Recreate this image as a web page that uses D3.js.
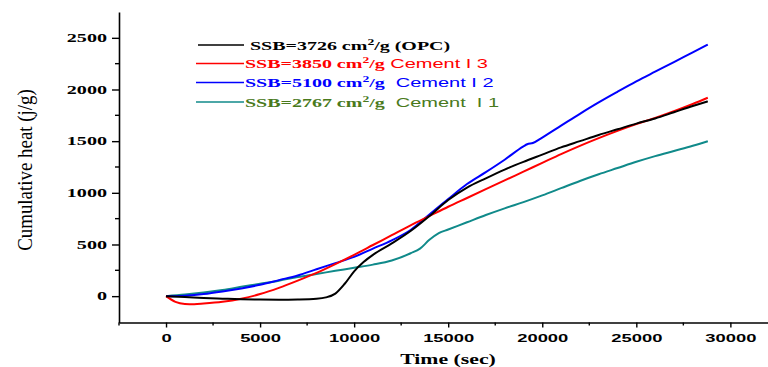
<!DOCTYPE html>
<html>
<head>
<meta charset="utf-8">
<script src="https://cdn.jsdelivr.net/npm/d3@7"></script>
<style>
  body { margin: 0; background: #fff; }
  svg { display: block; }
</style>
</head>
<body>
<svg id="chart" width="768" height="367"></svg>
<script>
// time (sec) for every sample
const opcTime = [0, 1000, 2000, 3000, 4000, 5000, 6000, 7000, 8000, 8500, 9000, 9500, 10000, 10500, 11000, 12000, 13000, 14000, 15000, 16000, 17000, 18000, 19000, 20000, 21000, 22000, 23000, 24000, 25000, 26000, 27000, 28000, 28800];
const opcHeat = [0, -8, -17, -24, -30, -33, -34, -32, -25, -12, 25, 120, 240, 330, 400, 510, 630, 775, 930, 1050, 1140, 1225, 1300, 1370, 1440, 1500, 1560, 1615, 1670, 1720, 1780, 1840, 1885];

const c3Time = [0, 500, 1000, 1500, 2000, 3000, 4000, 5000, 6000, 7000, 8000, 9000, 10000, 11000, 12000, 13000, 14000, 15000, 16000, 17000, 18000, 19000, 20000, 21000, 22000, 23000, 24000, 25000, 26000, 27000, 28000, 28800];
const c3Heat = [0, -55, -75, -78, -72, -55, -25, 20, 80, 150, 225, 310, 400, 495, 590, 685, 775, 865, 950, 1035, 1120, 1205, 1290, 1375, 1455, 1530, 1600, 1665, 1725, 1790, 1860, 1920];

const c2Time = [0, 1000, 2000, 3000, 4000, 5000, 6000, 7000, 8000, 9000, 10000, 11000, 12000, 13000, 14000, 15000, 16000, 17000, 18000, 19000, 19200, 19500, 20000, 21000, 22000, 23000, 24000, 25000, 26000, 27000, 28000, 28800];
const c2Heat = [0, 5, 20, 45, 75, 110, 155, 200, 260, 320, 380, 460, 540, 640, 790, 940, 1085, 1200, 1320, 1450, 1470, 1482, 1535, 1650, 1765, 1875, 1978, 2078, 2172, 2265, 2360, 2435];

const c1Time = [0, 1000, 2000, 3000, 4000, 5000, 6000, 7000, 8000, 9000, 10000, 11000, 12000, 13000, 13500, 14000, 14500, 15000, 16000, 17000, 18000, 19000, 20000, 21000, 22000, 23000, 24000, 25000, 26000, 27000, 28000, 28800];
const c1Heat = [0, 15, 35, 60, 90, 120, 150, 185, 215, 245, 275, 305, 345, 415, 460, 545, 610, 645, 715, 785, 850, 910, 975, 1045, 1115, 1180, 1240, 1300, 1355, 1405, 1455, 1500];

const xTicks = [0, 5000, 10000, 15000, 20000, 25000, 30000];
const xMinor = [-2500, 2500, 7500, 12500, 17500, 22500, 27500];
const yTicks = [0, 500, 1000, 1500, 2000, 2500];
const yMinor = [250, 750, 1250, 1750, 2250];

const seriesNames = ["SSB=3726 cm", "SSB=3850 cm", "SSB=5100 cm", "SSB=2767 cm"];
const seriesTails = ["/g (OPC)", "/g", "/g", "/g"];
const seriesExtra = ["", " Cement I 3", "  Cement I 2", "  Cement  I 1"];
const lineColors = ["#000000", "#ff0000", "#0000ff", "#108a8a"];
const textColors = ["#000000", "#ff0000", "#0000ff", "#4a7a1c"];

const series = [
  opcTime.map((t, i) => ({ t: t, v: opcHeat[i] })),
  c3Time.map((t, i) => ({ t: t, v: c3Heat[i] })),
  c2Time.map((t, i) => ({ t: t, v: c2Heat[i] })),
  c1Time.map((t, i) => ({ t: t, v: c1Heat[i] }))
];

const svg = d3.select("#chart");

const x = d3.scaleLinear().domain([-2500, 32000]).range([119, 768]);
const y = d3.scaleLinear().domain([-255, 2750]).range([322.5, 12]);
const stretch = 1.6;

// curves first, axes on top
const line = d3.line()
  .x(d => x(d.t))
  .y(d => y(d.v))
  .curve(d3.curveMonotoneX);

[3, 2, 1, 0].forEach(i => {
  svg.append("path")
    .datum(series[i])
    .attr("fill", "none")
    .attr("stroke", lineColors[i])
    .attr("stroke-width", 2)
    .attr("d", line);
});

// X axis
const xAxis = svg.append("g")
  .attr("transform", "translate(0," + y(-255) + ")")
  .call(d3.axisBottom(x).tickValues(xTicks).tickFormat(d3.format("d")).tickSize(5).tickPadding(6).tickSizeOuter(0));
xAxis.select(".domain").attr("stroke-width", 1.6);
xAxis.selectAll(".tick line").attr("stroke-width", 1.4);
xAxis.selectAll(".tick text")
  .attr("font-family", "Liberation Sans, Arial, sans-serif")
  .attr("font-weight", "bold")
  .attr("font-size", 11.5)
  .attr("transform", "scale(" + stretch + ",1)");
xAxis.selectAll(".minor")
  .data(xMinor)
  .enter().append("line")
  .attr("class", "minor")
  .attr("x1", d => x(d)).attr("x2", d => x(d))
  .attr("y1", 0).attr("y2", 3)
  .attr("stroke", "#000").attr("stroke-width", 1.4);

// Y axis
const yAxis = svg.append("g")
  .attr("transform", "translate(" + x(-2500) + ",0)")
  .call(d3.axisLeft(y).tickValues(yTicks).tickFormat(d3.format("d")).tickSize(7).tickPadding(0).tickSizeOuter(0));
yAxis.select(".domain").attr("stroke-width", 1.6);
yAxis.selectAll(".tick line").attr("stroke-width", 1.4);
yAxis.selectAll(".tick text")
  .attr("font-family", "Liberation Serif, Times New Roman, serif")
  .attr("font-weight", "bold")
  .attr("font-size", 11.5)
  .attr("x", -12 / 1.75)
  .attr("transform", "scale(1.75,1)");
yAxis.selectAll(".minor")
  .data(yMinor)
  .enter().append("line")
  .attr("class", "minor")
  .attr("y1", d => y(d)).attr("y2", d => y(d))
  .attr("x1", 0).attr("x2", -4)
  .attr("stroke", "#000").attr("stroke-width", 1.4);

// axis titles
svg.append("g")
  .attr("transform", "translate(448,364) scale(1.5,1)")
  .append("text")
  .attr("text-anchor", "middle")
  .attr("font-family", "Liberation Serif, Times New Roman, serif")
  .attr("font-weight", "bold")
  .attr("font-size", 14.5)
  .text("Time (sec)");

svg.append("text")
  .attr("transform", "translate(32,170) rotate(-90) scale(0.86,1)")
  .attr("text-anchor", "middle")
  .attr("font-family", "Liberation Serif, Times New Roman, serif")
  .attr("font-size", 22)
  .text("Cumulative heat (j/g)");

// legend
const legendY = [45, 63.5, 82.5, 102];
const lineStart = [198, 196, 196, 196];
const textStart = [250, 245, 245, 245];
seriesNames.forEach((name, i) => {
  svg.append("line")
    .attr("x1", lineStart[i]).attr("x2", 244)
    .attr("y1", legendY[i]).attr("y2", legendY[i])
    .attr("stroke", lineColors[i]).attr("stroke-width", 1.5);
  const txt = svg.append("g")
    .attr("transform", "translate(" + textStart[i] + "," + (legendY[i] + 4.5) + ") scale(" + stretch + ",1)")
    .append("text")
    .attr("fill", textColors[i])
    .attr("font-size", 12.5)
    .style("white-space", "pre");
  txt.append("tspan")
    .attr("font-family", "Liberation Serif, Times New Roman, serif")
    .attr("font-weight", "bold")
    .text(name);
  txt.append("tspan")
    .attr("font-family", "Liberation Serif, Times New Roman, serif")
    .attr("font-weight", "bold")
    .attr("font-size", 8.5)
    .attr("dy", -5)
    .text("2");
  txt.append("tspan")
    .attr("font-family", "Liberation Serif, Times New Roman, serif")
    .attr("font-weight", "bold")
    .attr("dy", 5)
    .text(seriesTails[i]);
  if (seriesExtra[i]) {
    txt.append("tspan")
      .attr("font-family", "Liberation Sans, Arial, sans-serif")
      .text(seriesExtra[i]);
  }
});
</script>
</body>
</html>
